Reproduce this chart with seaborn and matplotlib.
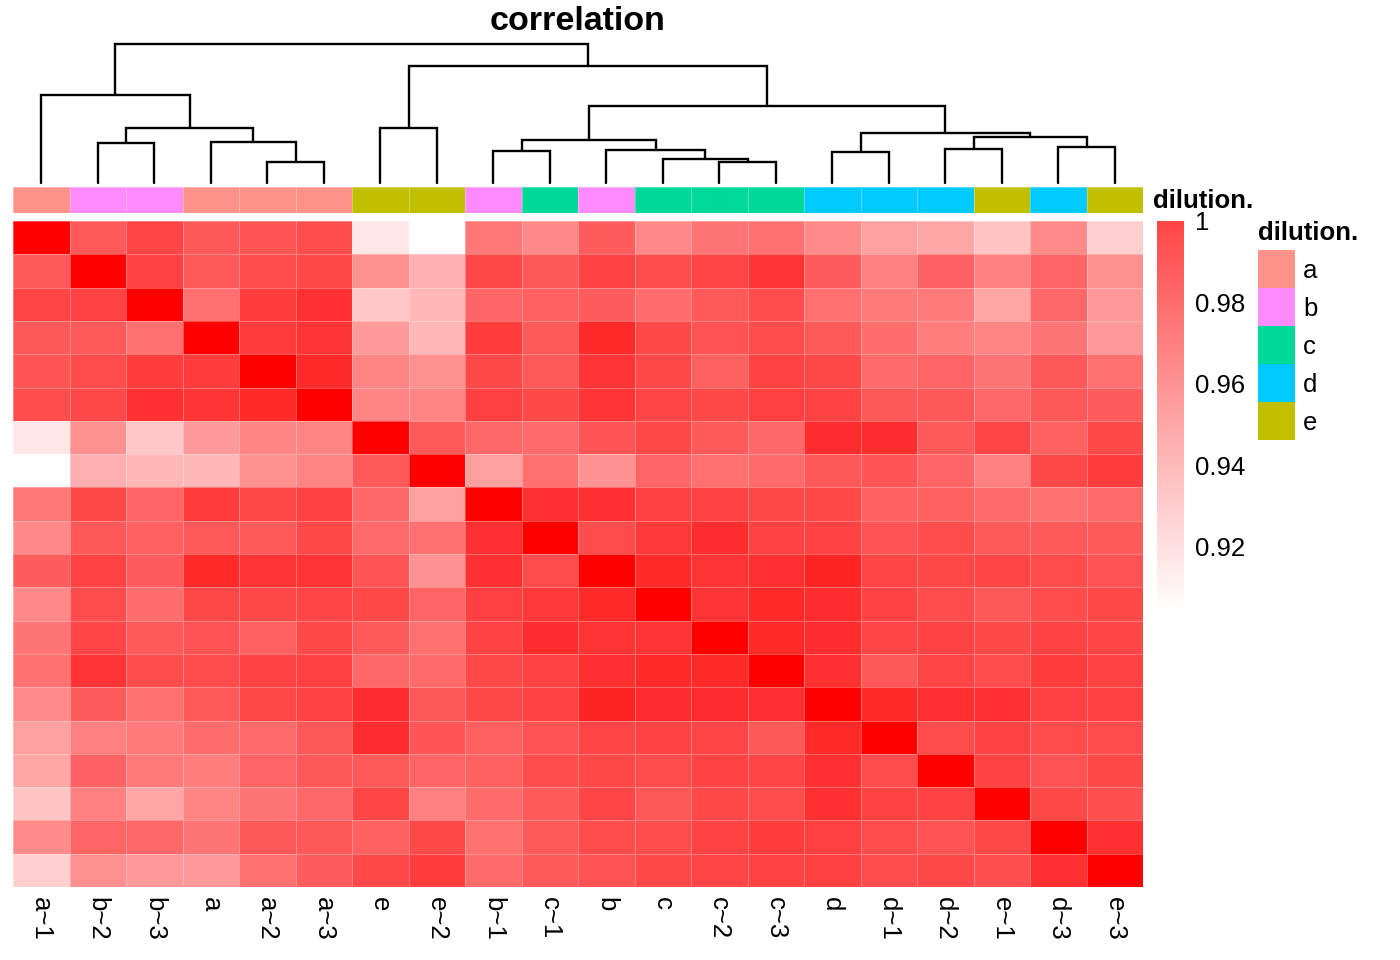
import numpy as np
import pandas as pd
import matplotlib
matplotlib.use("Agg")
import matplotlib.pyplot as plt
import seaborn as sns
from matplotlib.colors import LinearSegmentedColormap, ListedColormap, Normalize
from matplotlib.cm import ScalarMappable

# -----------------------------
# Data
# -----------------------------

samples = ["a~1", "b~2", "b~3", "a", "a~2", "a~3", "e", "e~2", "b~1", "c~1",
           "b", "c", "c~2", "c~3", "d", "d~1", "d~2", "e~1", "d~3", "e~3"]

dilution = ["a", "b", "b", "a", "a", "a", "e", "e", "b", "c",
            "b", "c", "c", "c", "d", "d", "d", "e", "d", "e"]

dilution_levels = ["a", "b", "c", "d", "e"]
dilution_colors = ["#FF938A", "#FF8BFF", "#00DA98", "#00CAFF", "#C0C000"]

# lower triangle of the correlation matrix (clustered order)
corr_lower = [
    [1.000],
    [0.966, 1.000],
    [0.974, 0.975, 1.000],
    [0.967, 0.966, 0.958, 1.000],
    [0.968, 0.971, 0.977, 0.977, 1.000],
    [0.971, 0.973, 0.982, 0.980, 0.984, 1.000],
    [0.913, 0.946, 0.925, 0.942, 0.950, 0.950, 1.000],
    [0.904, 0.934, 0.931, 0.931, 0.946, 0.950, 0.966, 1.000],
    [0.955, 0.973, 0.962, 0.977, 0.973, 0.976, 0.961, 0.940, 1.000],
    [0.949, 0.967, 0.964, 0.966, 0.966, 0.973, 0.960, 0.958, 0.982, 1.000],
    [0.965, 0.975, 0.965, 0.984, 0.980, 0.980, 0.968, 0.945, 0.982, 0.971, 1.000],
    [0.949, 0.971, 0.959, 0.973, 0.973, 0.974, 0.973, 0.962, 0.976, 0.979, 0.984, 1.000],
    [0.956, 0.974, 0.966, 0.969, 0.964, 0.973, 0.966, 0.958, 0.975, 0.983, 0.980, 0.980, 1.000],
    [0.958, 0.980, 0.971, 0.971, 0.975, 0.976, 0.961, 0.960, 0.973, 0.975, 0.982, 0.984, 0.984, 1.000],
    [0.948, 0.965, 0.958, 0.966, 0.973, 0.975, 0.983, 0.967, 0.973, 0.975, 0.986, 0.983, 0.983, 0.982, 1.000],
    [0.940, 0.952, 0.954, 0.959, 0.960, 0.967, 0.983, 0.968, 0.964, 0.969, 0.974, 0.975, 0.974, 0.967, 0.984, 1.000],
    [0.937, 0.963, 0.954, 0.953, 0.962, 0.967, 0.966, 0.962, 0.964, 0.971, 0.973, 0.971, 0.975, 0.974, 0.982, 0.971, 1.000],
    [0.926, 0.952, 0.938, 0.950, 0.956, 0.961, 0.974, 0.952, 0.960, 0.966, 0.974, 0.967, 0.973, 0.971, 0.982, 0.975, 0.975, 1.000],
    [0.948, 0.962, 0.961, 0.956, 0.967, 0.967, 0.964, 0.973, 0.958, 0.966, 0.971, 0.971, 0.975, 0.977, 0.976, 0.971, 0.969, 0.973, 1.000],
    [0.922, 0.946, 0.943, 0.943, 0.958, 0.965, 0.973, 0.977, 0.960, 0.966, 0.969, 0.973, 0.974, 0.975, 0.976, 0.971, 0.973, 0.970, 0.982, 1.000],
]

# column dendrogram merges: (left node, right node, height); new nodes get ids 20, 21, ...
merges = [
    (4, 5, 0.21), (3, 20, 0.41), (1, 2, 0.40), (22, 21, 0.55), (0, 23, 0.88),
    (6, 7, 0.55), (8, 9, 0.32), (12, 13, 0.21), (11, 27, 0.24), (10, 28, 0.33),
    (26, 29, 0.43), (14, 15, 0.31), (16, 17, 0.34), (18, 19, 0.36), (32, 33, 0.46),
    (31, 34, 0.50), (30, 35, 0.77), (25, 36, 1.17), (24, 37, 1.39),
]

cbar_ticks = [0.92, 0.94, 0.96, 0.98, 1.0]
cbar_labels = ["0.92", "0.94", "0.96", "0.98", "1"]
vmin, vmax = 0.904, 1.0

n = len(samples)
corr = np.zeros((n, n))
for i, row in enumerate(corr_lower):
    for j, v in enumerate(row):
        corr[i, j] = v
        corr[j, i] = v
df = pd.DataFrame(corr, index=samples, columns=samples)

# -----------------------------
# Layout helpers (pixel boxes)
# -----------------------------

W, H = 1400, 960
sns.set_style("white")
plt.rcParams["font.family"] = ["Liberation Sans", "DejaVu Sans"]
plt.rcParams["text.color"] = "black"
plt.rcParams["xtick.color"] = "black"
plt.rcParams["ytick.color"] = "black"
plt.rcParams["xtick.labelcolor"] = "black"
plt.rcParams["ytick.labelcolor"] = "black"
FS = 18.5

fig = plt.figure(figsize=(W / 100, H / 100), dpi=100)


def box(x0, y0, x1, y1):
    return [x0 / W, 1 - y1 / H, (x1 - x0) / W, (y1 - y0) / H]


cell_edge = (1, 1, 1, 0.3)

# -----------------------------
# Heatmap
# -----------------------------

cmap = LinearSegmentedColormap.from_list("wr", ["white", "red"])
ax = fig.add_axes(box(13, 221, 1143, 887))
sns.heatmap(df, ax=ax, cmap=cmap, vmin=vmin, vmax=vmax, cbar=False,
            linewidths=0.6, linecolor=cell_edge,
            xticklabels=samples, yticklabels=False)
ax.tick_params(axis="x", length=0, pad=7, labelsize=FS, labelcolor="black")
plt.setp(ax.get_xticklabels(), rotation=270, va="top", ha="center")
ax.set_xlabel("")
ax.set_ylabel("")

# -----------------------------
# Annotation bar
# -----------------------------

codes = pd.DataFrame([[dilution_levels.index(d) for d in dilution]], columns=samples)
ann_cmap = ListedColormap(dilution_colors)
ax_ann = fig.add_axes(box(13, 187, 1143, 213))
sns.heatmap(codes, ax=ax_ann, cmap=ann_cmap, vmin=-0.5, vmax=4.5, cbar=False,
            linewidths=0.6, linecolor=cell_edge,
            xticklabels=False, yticklabels=False)
fig.text(1153 / W, 1 - 201 / H, "dilution.", fontsize=FS, fontweight="bold",
         ha="left", va="center", color="black")

# -----------------------------
# Dendrogram
# -----------------------------

ax_d = fig.add_axes(box(13, 44, 1143, 183))
xpos = {i: i + 0.5 for i in range(n)}
hpos = {i: 0.0 for i in range(n)}
for k, (a, b, h) in enumerate(merges):
    xa, xb = xpos[a], xpos[b]
    ax_d.plot([xa, xa, xb, xb], [hpos[a], h, h, hpos[b]], color="black",
              lw=1.7, solid_joinstyle="miter", clip_on=False)
    xpos[n + k] = (xa + xb) / 2
    hpos[n + k] = h
ax_d.set_xlim(0, n)
ax_d.set_ylim(0, merges[-1][2])
ax_d.axis("off")

fig.text(578 / W, 1 - 21 / H, "correlation", fontsize=24.5, fontweight="bold",
         ha="center", va="center", color="black")

# -----------------------------
# Colour bar (drawn lighter, as in the original legend)
# -----------------------------

cbar_cmap = LinearSegmentedColormap.from_list("wr_light", ["white", "#FF4646"])
cax = fig.add_axes(box(1157, 221, 1184, 612))
sm = ScalarMappable(norm=Normalize(vmin, vmax), cmap=cbar_cmap)
cb = fig.colorbar(sm, cax=cax)
cb.outline.set_visible(False)
cb.set_ticks(cbar_ticks)
cb.set_ticklabels(cbar_labels)
cax.tick_params(length=0, pad=8, labelsize=FS, labelcolor="black")

# -----------------------------
# Legend
# -----------------------------

ax_l = fig.add_axes(box(1258, 250, 1295, 440))
leg = pd.DataFrame({"dilution.": range(len(dilution_levels))}, index=dilution_levels)
sns.heatmap(leg, ax=ax_l, cmap=ann_cmap, vmin=-0.5, vmax=4.5, cbar=False,
            xticklabels=False, yticklabels=dilution_levels)
ax_l.yaxis.tick_right()
ax_l.tick_params(axis="y", length=0, pad=6, labelsize=FS, labelrotation=0,
                 labelcolor="black")
ax_l.set_ylabel("")
fig.text(1258 / W, 1 - 233 / H, "dilution.", fontsize=FS, fontweight="bold",
         ha="left", va="center", color="black")

fig.savefig("out.png", dpi=100, facecolor="white")
